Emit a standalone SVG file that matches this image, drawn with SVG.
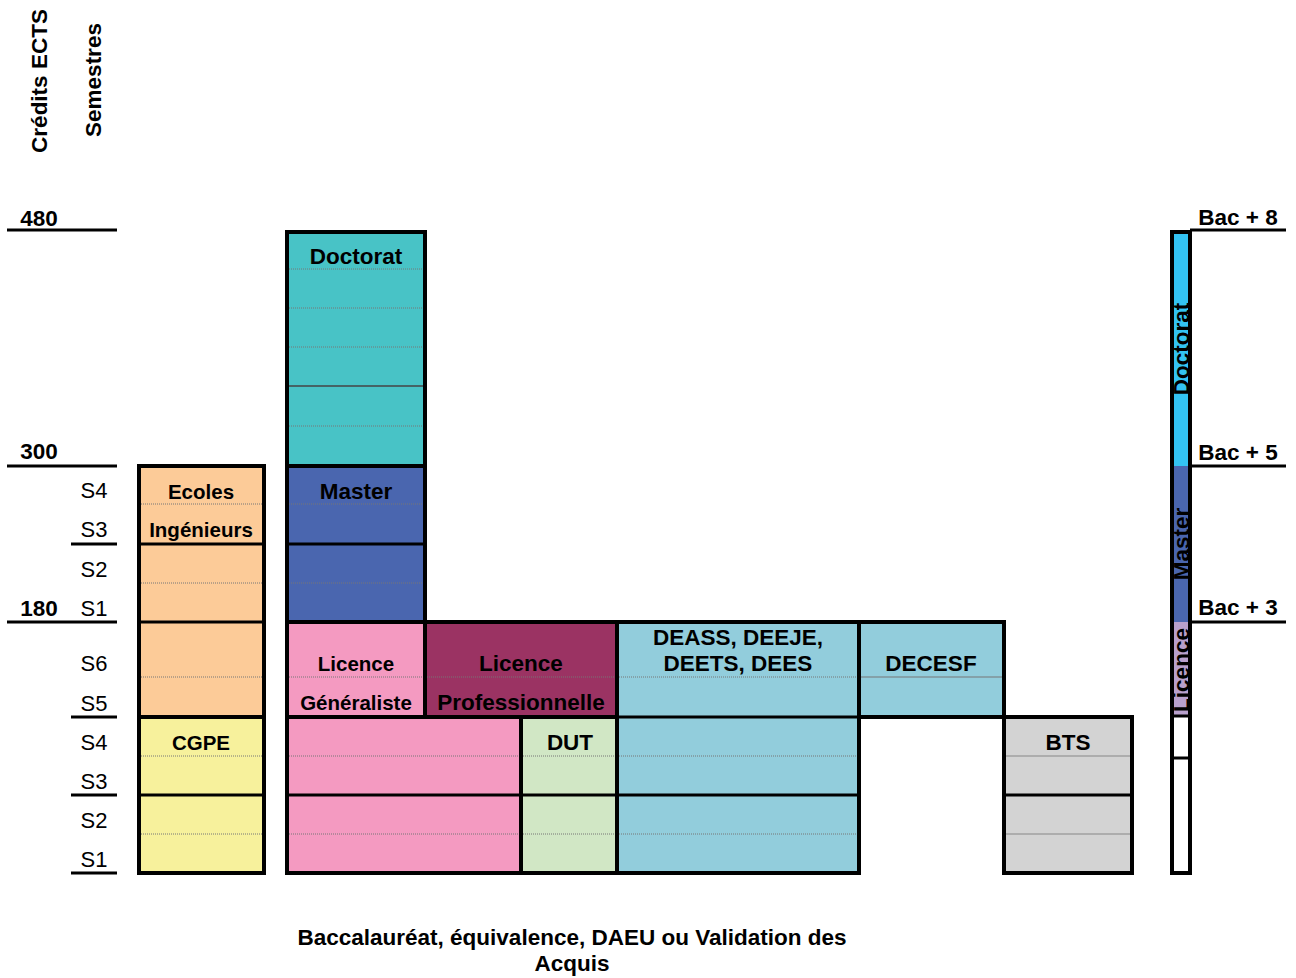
<svg xmlns="http://www.w3.org/2000/svg" width="1296" height="978" viewBox="0 0 1296 978">
<style>
text{font-family:"Liberation Sans",Arial,sans-serif;fill:#000}
.b{font-weight:bold;font-size:22.5px}
.bs{font-weight:bold;font-size:20.5px}
.r{font-size:22px}
.m{text-anchor:middle}
.box{stroke:#000;stroke-width:4;fill:none}
.sol{stroke:#000;stroke-width:3;fill:none}
.dot{stroke:#777;stroke-width:1;stroke-dasharray:1 1;fill:none}
.ax{stroke:#000;stroke-width:3}
</style>
<rect width="1296" height="978" fill="#fff"/>

<g id="axes">
<text class="b" transform="translate(47,81) rotate(-90)" text-anchor="middle">Crédits ECTS</text>
<text class="b" transform="translate(101,80) rotate(-90)" text-anchor="middle">Semestres</text>
<line class="ax" x1="7" y1="230" x2="117" y2="230"/>
<line class="ax" x1="7" y1="466" x2="117" y2="466"/>
<line class="ax" x1="71" y1="544" x2="117" y2="544"/>
<line class="ax" x1="7" y1="622" x2="117" y2="622"/>
<line class="ax" x1="71" y1="717" x2="117" y2="717"/>
<line class="ax" x1="71" y1="795" x2="117" y2="795"/>
<line class="ax" x1="71" y1="873" x2="117" y2="873"/>
<text class="b m" x="39" y="226">480</text>
<text class="b m" x="39" y="459">300</text>
<text class="b m" x="39" y="616">180</text>
<text class="r m" x="94" y="498">S4</text>
<text class="r m" x="94" y="537">S3</text>
<text class="r m" x="94" y="577">S2</text>
<text class="r m" x="94" y="616">S1</text>
<text class="r m" x="94" y="671">S6</text>
<text class="r m" x="94" y="711">S5</text>
<text class="r m" x="94" y="750">S4</text>
<text class="r m" x="94" y="789">S3</text>
<text class="r m" x="94" y="828">S2</text>
<text class="r m" x="94" y="867">S1</text>
<line class="ax" x1="1190" y1="230" x2="1286" y2="230"/>
<line class="ax" x1="1190" y1="466" x2="1286" y2="466"/>
<line class="ax" x1="1190" y1="622" x2="1286" y2="622"/>
<text class="b m" x="1238" y="225">Bac + 8</text>
<text class="b m" x="1238" y="460">Bac + 5</text>
<text class="b m" x="1238" y="615">Bac + 3</text>
</g>

<g id="connectors"></g>

<g id="ecoles">
<rect x="139" y="466" width="125" height="251" fill="#FCCB98"/>
<line class="dot" x1="141" y1="504" x2="262" y2="504"/>
<line class="dot" x1="141" y1="583" x2="262" y2="583"/>
<line class="dot" x1="141" y1="677" x2="262" y2="677"/>
<line class="sol" x1="139" y1="544" x2="264" y2="544"/>
<line class="sol" x1="139" y1="622" x2="264" y2="622"/>
<rect class="box" x="139" y="466" width="125" height="251"/>
<text class="bs m" x="201" y="499">Ecoles</text>
<text class="bs m" x="201" y="537">Ingénieurs</text>
</g>

<g id="cgpe">
<rect x="139" y="717" width="125" height="156" fill="#F7F19C"/>
<line class="dot" x1="141" y1="756" x2="262" y2="756"/>
<line class="dot" x1="141" y1="834" x2="262" y2="834"/>
<line class="sol" x1="139" y1="795" x2="264" y2="795"/>
<rect class="box" x="139" y="717" width="125" height="156"/>
<text class="bs m" x="201" y="750">CGPE</text>
</g>

<g id="doctorat">
<rect x="287" y="232" width="138" height="234" fill="#48C3C6"/>
<line class="dot" x1="289" y1="269" x2="423" y2="269"/>
<line class="dot" x1="289" y1="308" x2="423" y2="308"/>
<line class="dot" x1="289" y1="347" x2="423" y2="347"/>
<line x1="289" y1="386" x2="423" y2="386" stroke="#444" stroke-width="1.5"/>
<line class="dot" x1="289" y1="426" x2="423" y2="426"/>
<rect class="box" x="287" y="232" width="138" height="234"/>
<text class="b m" x="356" y="264">Doctorat</text>
</g>

<g id="master">
<rect x="287" y="466" width="138" height="156" fill="#4A66AF"/>
<line class="dot" x1="289" y1="504" x2="423" y2="504"/>
<line class="dot" x1="289" y1="583" x2="423" y2="583"/>
<line class="sol" x1="287" y1="544" x2="425" y2="544"/>
<rect class="box" x="287" y="466" width="138" height="156"/>
<text class="b m" x="356" y="499">Master</text>
</g>

<g id="licence-generaliste">
<rect x="287" y="622" width="138" height="95" fill="#F49AC1"/>
<line class="dot" x1="289" y1="677" x2="423" y2="677"/>
<rect class="box" x="287" y="622" width="138" height="95"/>
<text class="bs m" x="356" y="671">Licence</text>
<text class="bs m" x="356" y="710">Généraliste</text>
</g>

<g id="licence-pro">
<rect x="425" y="622" width="192" height="95" fill="#9B3363"/>
<line class="dot" x1="427" y1="677" x2="615" y2="677"/>
<rect class="box" x="425" y="622" width="192" height="95"/>
<text class="b m" x="521" y="671">Licence</text>
<text class="b m" x="521" y="710">Professionnelle</text>
</g>

<g id="licence-l1l2">
<rect x="287" y="717" width="234" height="156" fill="#F49AC1"/>
<line class="dot" x1="289" y1="756" x2="519" y2="756"/>
<line class="dot" x1="289" y1="834" x2="519" y2="834"/>
<line class="sol" x1="287" y1="795" x2="521" y2="795"/>
<rect class="box" x="287" y="717" width="234" height="156"/>
</g>

<g id="dut">
<rect x="521" y="717" width="96" height="156" fill="#D1E7C5"/>
<line class="dot" x1="523" y1="756" x2="615" y2="756"/>
<line class="dot" x1="523" y1="834" x2="615" y2="834"/>
<line class="sol" x1="521" y1="795" x2="617" y2="795"/>
<rect class="box" x="521" y="717" width="96" height="156"/>
<text class="b m" x="570" y="750">DUT</text>
</g>

<g id="deass">
<rect x="617" y="622" width="242" height="251" fill="#92CDDC"/>
<line class="dot" x1="619" y1="677" x2="857" y2="677"/>
<line class="dot" x1="619" y1="756" x2="857" y2="756"/>
<line class="dot" x1="619" y1="834" x2="857" y2="834"/>
<line class="sol" x1="617" y1="717" x2="859" y2="717"/>
<line class="sol" x1="617" y1="795" x2="859" y2="795"/>
<rect class="box" x="617" y="622" width="242" height="251"/>
<text class="b m" x="738" y="645">DEASS, DEEJE,</text>
<text class="b m" x="738" y="671">DEETS, DEES</text>
</g>

<g id="decesf">
<rect x="859" y="622" width="145" height="95" fill="#92CDDC"/>
<line x1="861" y1="677" x2="1002" y2="677" stroke="#777" stroke-width="1.2"/>
<rect class="box" x="859" y="622" width="145" height="95"/>
<text class="b m" x="931" y="671">DECESF</text>
</g>

<g id="bts">
<rect x="1004" y="717" width="128" height="156" fill="#D3D3D3"/>
<line x1="1006" y1="756" x2="1130" y2="756" stroke="#888" stroke-width="1.2"/>
<line x1="1006" y1="834" x2="1130" y2="834" stroke="#888" stroke-width="1.2"/>
<line class="sol" x1="1004" y1="795" x2="1132" y2="795"/>
<rect class="box" x="1004" y="717" width="128" height="156"/>
<text class="b m" x="1068" y="750">BTS</text>
</g>

<g id="bar">
<rect x="1172" y="232" width="18" height="234" fill="#33C3F3"/>
<rect x="1172" y="466" width="18" height="156" fill="#4A66AF"/>
<rect x="1172" y="622" width="18" height="94" fill="#B8A0CC"/>
<rect x="1172" y="716" width="18" height="157" fill="#fff"/>
<line class="sol" x1="1172" y1="716" x2="1190" y2="716"/>
<line class="sol" x1="1172" y1="758" x2="1190" y2="758"/>
<text class="b m" transform="translate(1189,349) rotate(-90)">Doctorat</text>
<text class="b m" transform="translate(1189,544) rotate(-90)">Master</text>
<text class="b m" transform="translate(1189,670) rotate(-90)">Licence</text>
<rect class="box" x="1172" y="232" width="18" height="641"/>
</g>

<g id="bac">
<text class="b m" x="572" y="945">Baccalauréat, équivalence, DAEU ou Validation des</text>
<text class="b m" x="572" y="971">Acquis</text>
</g>
</svg>
